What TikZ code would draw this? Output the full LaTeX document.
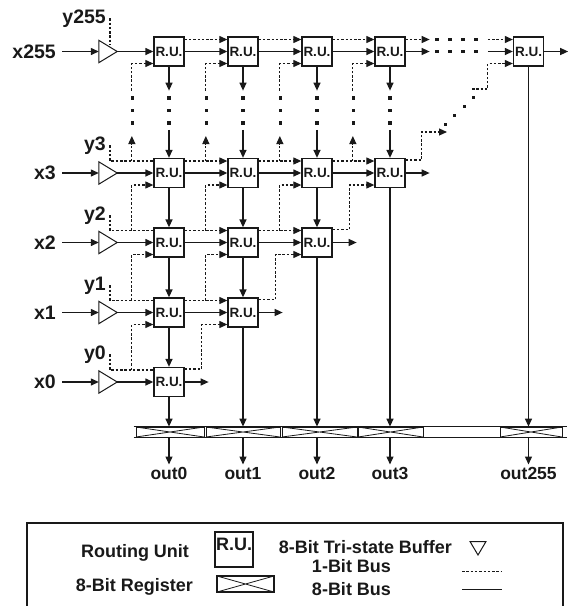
\documentclass[tikz,border=0pt]{standalone}
\usepackage{fontspec}
\setmainfont{Liberation Sans}
\usetikzlibrary{arrows.meta}

\begin{document}
\begin{tikzpicture}[x=1pt,y=-1pt,black!90,
  font=\bfseries\fontsize{18}{20}\selectfont,
  bus/.style={line width=1.3pt},
  bit/.style={line width=1.1pt,dash pattern=on 2.5pt off 1.8pt},
  tip/.style={-{Triangle[length=8pt,width=7pt]}},
  ru/.style={draw,line width=1.3pt,minimum width=30pt,minimum height=29pt,inner sep=0pt,
    font=\bfseries\fontsize{13.5}{14}\selectfont},
  buf/.style={minimum width=18pt,minimum height=22pt,inner sep=0pt},
  lbl/.style={inner sep=0pt,font=\bfseries\fontsize{19.5}{20}\selectfont},
  reg/.style={draw,line width=0.8pt,minimum height=10pt,inner sep=0pt,
    path picture={\draw[line width=0.8pt] (path picture bounding box.north west) -- (path picture bounding box.south east)
      (path picture bounding box.south west) -- (path picture bounding box.north east);}},
  sq/.style={fill,minimum width=3.5pt,minimum height=3.5pt,inner sep=0pt}]
\useasboundingbox (0,0) rectangle (568,606);

\foreach \r/\y in {0/382,1/312.5,2/242.5,3/173}
  \foreach \c/\x in {0/169,1/243,2/317,3/390}
    {\ifnum\c>\r\else\node[ru] (ru-\r-\c) at (\x,\y) {R.U.};\fi}
\foreach \c/\x in {0/169,1/243,2/317,3/390,255/528.5}
  \node[ru] (ru-255-\c) at (\x,51.5) {R.U.};

\foreach \r/\y/\b in {0/382/359,1/312.5/290,2/242.5/220,3/173/150,255/51.5/23}{
  \node[lbl,anchor=east] (x\r) at (56,\y) {x\r};
  \node[lbl,anchor=base east] (y\r) at (106,\b) {y\r};
  \node[buf] (b\r) at (108,\y) {};
  \draw[line width=1pt] (b\r.north west) -- (b\r.east) -- (b\r.south west) -- cycle;
  \draw[bus,tip] ([xshift=6pt]x\r.east) -- (b\r.west);
  \draw[bus,tip] (b\r.east) -- (ru-\r-0.west);
}
\draw[bit] (y255.east) ++(4,0) -- ([xshift=2pt,yshift=-4pt]b255.north);

\foreach \n/\x/\w in {0/170/68,1/243/74,2/319.5/75,3/390.5/65,255/531/62}
  \node[reg,minimum width=\w pt] (reg\n) at (\x,432) {};
\draw[bus] ([xshift=-2pt]reg0.north west) -- ([xshift=5pt]reg255.north east);
\draw[bus] ([xshift=-2pt]reg0.south west) -- ([xshift=5pt]reg255.south east);

\foreach \r in {0,1,2,3}{
  \pgfmathtruncatemacro\rnext{\r+1}
  \pgfmathtruncatemacro\rprev{\r-1}
  \draw[bit] (y\r.east) ++(4,0) |- ([yshift=12pt]ru-\r-0.west);
  \foreach \c in {0,1,2,3}{
    \pgfmathtruncatemacro\cnext{\c+1}
    \ifnum\c<\r
      \draw[bus,tip] (ru-\r-\c.east) -- (ru-\r-\cnext.west);
      \draw[bit,tip] ([yshift=12pt]ru-\r-\c.east) -- ([yshift=12pt]ru-\r-\cnext.west);
      \draw[bus,tip] (ru-\r-\c.south) -- (ru-\rprev-\c.north);
    \fi
    \ifnum\c=\r
      \draw[bus,tip] (ru-\r-\c.east) -- ++(24,0);
      \draw[bus,tip] (ru-\r-\c.south) -- (ru-\r-\c.south |- reg\c.north);
    \fi
    \ifnum\c>\r\else
      \ifnum\r<3
        \draw[bit,tip] ([xshift=-21.5pt,yshift=12pt]ru-\r-\c.west) |- ([yshift=-12pt]ru-\rnext-\c.west);
      \else
        \draw[bit,tip] ([xshift=-21.5pt,yshift=12pt]ru-3-\c.west) -- ++(0,-25);
        \draw[bit,tip] ([xshift=-21.5pt,yshift=-12pt]ru-255-\c.west) ++(0,27) -- ++(0,-27) -- ([yshift=-12pt]ru-255-\c.west);
      \fi
    \fi
  }
  \ifnum\r<3
    \draw[bit,tip] ([yshift=13pt]ru-\r-\r.east) -- ++(17,0) |- ([yshift=-12pt]ru-\rnext-\rnext.west);
  \fi
}

\coordinate (d0) at (447,132);
\coordinate (d1) at (472,89);
\draw[bit,tip] ([yshift=13pt]ru-3-3.east) -- ++(16,0) |- (d0);
\foreach \x/\y in {445/124,454.5/115,464/106,473.5/97}
  \node[sq,minimum width=3pt,minimum height=3pt] at (\x,\y) {};
\draw[bit,tip] (d1) -| ([xshift=-25pt,yshift=-12pt]ru-255-255.west) -- ([yshift=-12pt]ru-255-255.west);

\foreach \c/\cnext in {0/1,1/2,2/3}{
  \draw[bus,tip] (ru-255-\c.east) -- (ru-255-\cnext.west);
  \draw[bit,tip] ([yshift=12pt]ru-255-\c.east) -- ([yshift=12pt]ru-255-\cnext.west);
}
\draw[bus,tip] (ru-255-3.east) -- ++(24,0);
\draw[bit,tip] ([yshift=12pt]ru-255-3.east) -- ++(24,0);
\foreach \x in {437,450,463,476}{
  \node[sq] at (\x,39.5) {};
  \node[sq] at (\x,51.5) {};
}
\draw[bus,tip] ([xshift=-25pt]ru-255-255.west) -- (ru-255-255.west);
\draw[bit,tip] ([xshift=-25pt,yshift=12pt]ru-255-255.west) -- ([yshift=12pt]ru-255-255.west);
\draw[bus,tip] (ru-255-255.east) -- ++(24,0);
\draw[bus,tip] (ru-255-255.south) -- (ru-255-255.south |- reg255.north);

\foreach \c in {0,1,2,3}{
  \draw[bus,tip] (ru-255-\c.south) -- ++(0,24);
  \draw[bus,tip] ([yshift=28pt]ru-3-\c.north) -- (ru-3-\c.north);
}
\foreach \x in {132.5,206.5,280.5,353.5,169,243,317,390}
  \foreach \y in {98,110.5,123}
    \node[sq] at (\x,\y) {};

\foreach \n/\x in {0/169,1/243,2/317,3/390,255/528.5}{
  \node[anchor=north,inner sep=0pt,font=\bfseries\fontsize{17.5}{18}\selectfont] (out\n) at (\x,467.5) {out\n};
  \draw[bus,tip,shorten >=3pt] (reg\n.south -| out\n.north) -- (out\n.north);
}

\draw[line width=1.1pt] (27,523) rectangle (563,640);
\node[anchor=base] (lru) at (135,557) {Routing Unit};
\node[draw,line width=1.1pt,minimum width=38pt,minimum height=35pt,inner sep=0pt] (legru) at (234,549.5) {};
\node[anchor=north west,inner sep=0pt] (legrut) at ([xshift=1.5pt,yshift=-6pt]legru.north west) {R.U.};
\node[anchor=base] (lreg) at (134.5,591) {8-Bit Register};
\node[reg,line width=1.1pt,minimum width=57pt,minimum height=16pt] (legreg) at (245.5,584) {};
\node[anchor=base] (lbuf) at (365.5,553) {8-Bit Tri-state Buffer};
\draw[line width=1pt] (470,541.5) -- (486,541.5) -- (478,555) -- cycle;
\node[anchor=base] (lbit) at (351.5,572) {1-Bit Bus};
\draw[bit] (462,571.5) -- (502,571.5);
\node[anchor=base] (lbus) at (351.5,595) {8-Bit Bus};
\draw[bus] (462,589.5) -- (502,589.5);
\end{tikzpicture}
\end{document}
